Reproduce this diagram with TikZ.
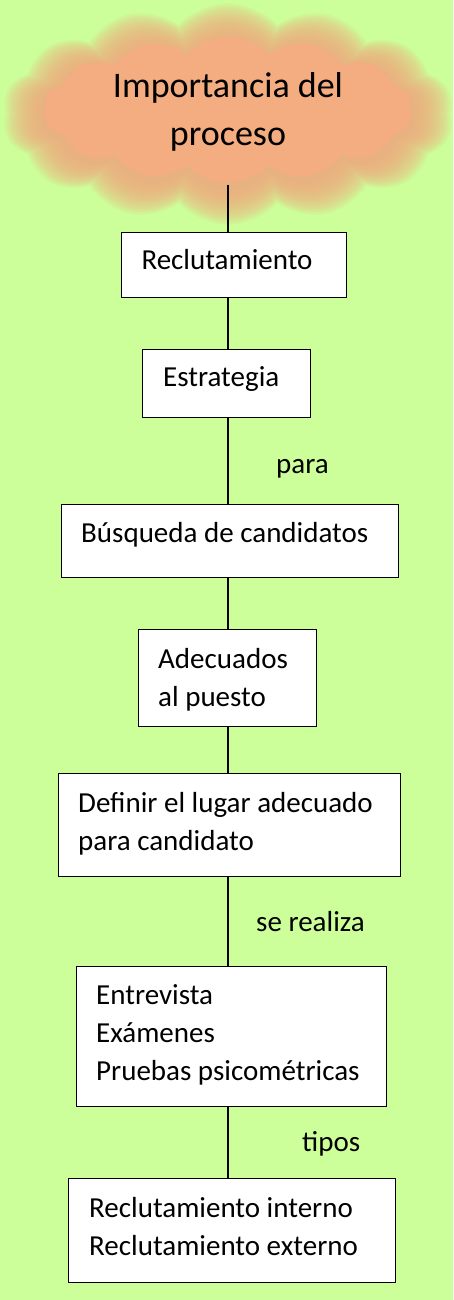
\documentclass[tikz,border=0pt]{standalone}
\usepackage{fontspec}
\setmainfont{Carlito}
\usetikzlibrary{shapes.symbols}
\definecolor{bg}{HTML}{CCFF99}
\definecolor{cloudc}{HTML}{F3AD80}
\tikzset{
  box/.style={draw=black, line width=1.3pt, fill=white, anchor=north west, inner sep=0pt},
  txt/.style={font=\fontsize{29}{38}\selectfont, align=left, inner sep=0pt, anchor=base west},
  lbl/.style={font=\fontsize{29}{38}\selectfont, inner sep=0pt, anchor=base west},
  conn/.style={line width=1.2pt, draw=black},
  puff/.style={shape=cloud, cloud puffs=14, cloud puff arc=95, cloud ignores aspect, inner sep=0pt, draw=none},
  ttl/.style={font=\fontsize{36}{48}\selectfont, align=center, inner sep=0pt}
}
\begin{document}
\begin{tikzpicture}[x=1pt, y=-1pt]
\fill[bg] (0,0) rectangle (453,1300);
\useasboundingbox (0,0) rectangle (453,1300);
% cloud (soft edge built from stacked translucent layers)
\foreach \i in {0,...,23}{
  \node[puff, fill=cloudc, fill opacity=0.09, minimum width={(452-3.5*\i)*1pt}, minimum height={(222-3.2*\i)*1pt}] (c\i) at (228,114) {};
}
\node[puff, fill=cloudc, minimum width=368pt, minimum height=146pt] (cloud) at (228,110) {};
\node[ttl] (title) at (228,112) {Importancia del\\proceso};
\coordinate (ctop) at (228,185);
\coordinate (lx) at (228,0);
% boxes
\node[box, minimum width=225pt, minimum height=65pt] (b1) at (120.5,232) {};
\node[box, minimum width=168pt, minimum height=68pt] (b2) at (141.5,349) {};
\node[box, minimum width=337pt, minimum height=73pt] (b3) at (60.5,504) {};
\node[box, minimum width=178pt, minimum height=97pt] (b4) at (137.5,629) {};
\node[box, minimum width=342pt, minimum height=103pt] (b5) at (58,773) {};
\node[box, minimum width=310pt, minimum height=140pt] (b6) at (75.5,965.5) {};
\node[box, minimum width=327pt, minimum height=104pt] (b7) at (68,1178) {};
% texts (base anchor = baseline of the last line)
\node[txt] (t1) at (141.3,269.3) {Reclutamiento};
\node[txt] (t2) at (163,386.7) {Estrategia};
\node[txt] (t3) at (81,542) {Búsqueda de candidatos};
\node[txt] (t4) at (158,706) {Adecuados\\al puesto};
\node[txt] (t5) at (78,850.7) {Definir el lugar adecuado\\para candidato};
\node[txt] (t6) at (96,1080) {Entrevista\\Exámenes\\Pruebas psicométricas};
\node[txt] (t7) at (89,1255) {Reclutamiento interno\\Reclutamiento externo};
% labels
\node[lbl] (l1) at (276,473) {para};
\node[lbl] (l2) at (256,931.7) {se realiza};
\node[lbl] (l3) at (302,1151.7) {tipos};
% connectors
\draw[conn] (ctop) -- (b1.north -| lx);
\draw[conn] (b1.south -| lx) -- (b2.north -| lx);
\draw[conn] (b2.south -| lx) -- (b3.north -| lx);
\draw[conn] (b3.south -| lx) -- (b4.north -| lx);
\draw[conn] (b4.south -| lx) -- (b5.north -| lx);
\draw[conn] (b5.south -| lx) -- (b6.north -| lx);
\draw[conn] (b6.south -| lx) -- (b7.north -| lx);
\end{tikzpicture}
\end{document}
